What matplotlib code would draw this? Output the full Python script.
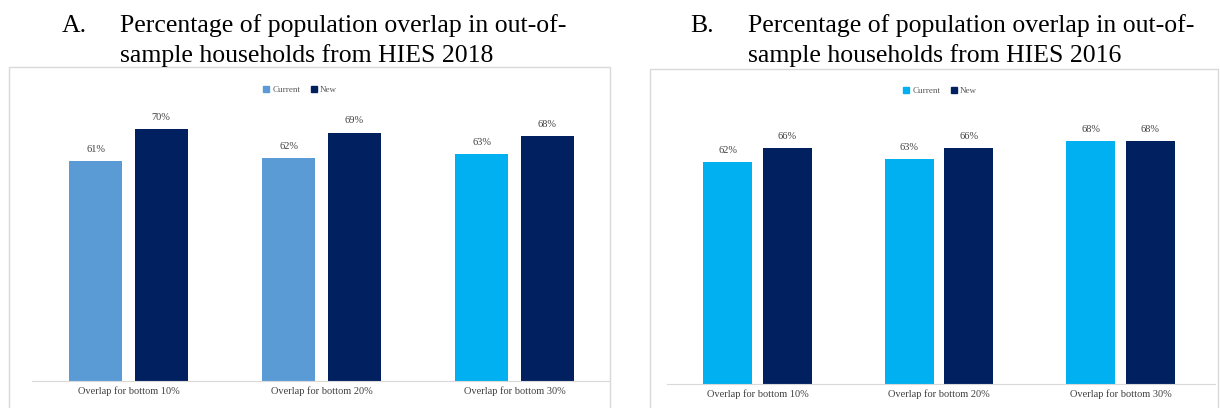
import matplotlib.pyplot as plt
from matplotlib.patches import Rectangle, Patch

categories = ['Overlap for bottom 10%', 'Overlap for bottom 20%', 'Overlap for bottom 30%']
current_2018 = [61, 62, 63]
new_2018 = [70, 69, 68]
current_2016 = [62, 63, 68]
new_2016 = [66, 66, 68]

title_a = ['Percentage of population overlap in out-of-', 'sample households from HIES 2018']
title_b = ['Percentage of population overlap in out-of-', 'sample households from HIES 2016']

W, H = 1220, 408
fig = plt.figure(figsize=(W / 100, H / 100), dpi=100)
serif = 'Liberation Serif'


def px(x, y, w, h):
    # pixel box (top-left origin) -> figure fraction
    return [x / W, 1 - (y + h) / H, w / W, h / H]


def panel(rect, frame, cur, new, cur_colors, xmax, width, off, letter, lines, tx, leg_x, leg_y):
    fig.patches.append(Rectangle((frame[0], frame[1]), frame[2], frame[3],
                                 transform=fig.transFigure, fill=False,
                                 edgecolor='#D9D9D9', linewidth=1))
    ax = fig.add_axes(rect)
    xs = range(len(categories))
    b1 = ax.bar([x - off for x in xs], cur, width, color=cur_colors)
    b2 = ax.bar([x + off for x in xs], new, width, color='#002060')
    for bars, vals in ((b1, cur), (b2, new)):
        for b, v in zip(bars, vals):
            ax.text(b.get_x() + b.get_width() / 2, v + 2.0, '%d%%' % v,
                    ha='center', va='bottom', fontsize=7.5, color='#404040', family=serif)
    ax.set_xlim(-0.5, xmax)
    ax.set_ylim(0, 80)
    for s in ['top', 'right', 'left']:
        ax.spines[s].set_visible(False)
    ax.spines['bottom'].set_color('#D9D9D9')
    ax.set_yticks([])
    ax.set_xticks(list(xs))
    ax.set_xticklabels(categories, fontsize=7.5, family=serif, color='#404040')
    ax.tick_params(axis='x', length=0, pad=4)
    ax.set_facecolor('none')
    handles = [Patch(color=cur_colors[0]), Patch(color='#002060')]
    fig.legend(handles, ['Current', 'New'], loc='center', bbox_to_anchor=(leg_x / W, 1 - leg_y / H),
               ncol=2, frameon=False, prop={'family': serif, 'size': 6.5},
               handlelength=0.7, handleheight=0.7, handletextpad=0.3, columnspacing=1.2,
               labelcolor='#595959')
    fig.text((tx - 58) / W, 1 - 32 / H, letter, fontsize=18.5, family=serif, va='baseline')
    fig.text(tx / W, 1 - 32 / H, lines[0], fontsize=18.5, family=serif, va='baseline')
    fig.text(tx / W, 1 - 62 / H, lines[1], fontsize=18.5, family=serif, va='baseline')


panel(px(32, 93, 578, 288), (9 / W, -0.01, 601 / W, 1 - 67 / H + 0.01),
      current_2018, new_2018, ['#5B9BD5', '#5B9BD5', '#00B0F0'], 2.495, 0.275, 0.17,
      'A.', title_a, 120, 300, 90)
panel(px(667, 98, 548, 286), (650 / W, -0.01, 568 / W, 1 - 69 / H + 0.01),
      current_2016, new_2016, ['#00B0F0'] * 3, 2.52, 0.27, 0.164,
      'B.', title_b, 748, 940, 91)

fig.savefig('out.png', dpi=100)
